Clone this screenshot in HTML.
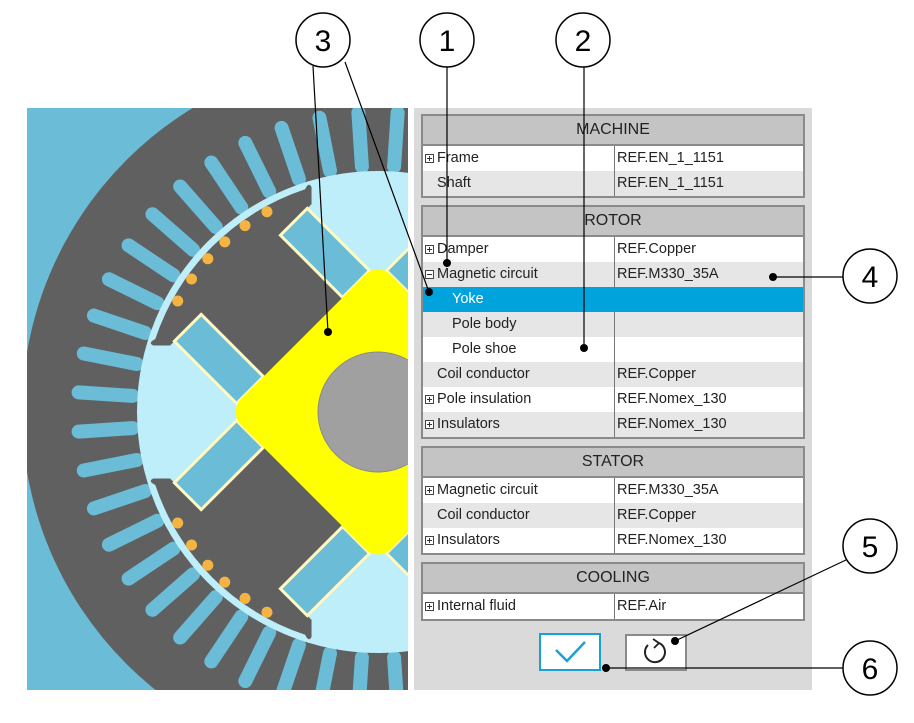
<!DOCTYPE html>
<html><head><meta charset="utf-8"><style>
html,body{margin:0;width:914px;height:723px;overflow:hidden;}
body{background:#fff;position:relative;font-family:"Liberation Sans",sans-serif;}
#panel{position:absolute;left:414px;top:108px;width:398px;height:582px;background:#dadada;}
.tb{position:absolute;left:421px;width:380px;border:2px solid #8a8a8a;background:#fff;}
.hd{height:28px;line-height:28px;text-align:center;background:#c4c4c4;border-bottom:2px solid #8a8a8a;font-size:16px;color:#222;}
.r{height:25px;line-height:25px;font-size:14.5px;color:#222;position:relative;}
.r.g{background:#e6e6e6}.r.w{background:#fff}.r.s{background:#00a3dc;color:#fff}
.r .a{position:absolute;left:14px;top:0}
.r .a.i{left:29px}
.r .b{position:absolute;left:191px;top:0;bottom:0;border-left:1px solid #777;padding-left:2px}
.p{position:absolute;left:2px;top:8px;width:7px;height:7px;border:1px solid #444;background:#fff}
.p:before{content:"";position:absolute;left:1px;top:3px;width:5px;height:1px;background:#333}
.p.pl:after{content:"";position:absolute;left:3px;top:1px;width:1px;height:5px;background:#333}
</style></head><body>
<svg style="position:absolute;left:0;top:0" width="914" height="723">
<defs><clipPath id="c"><rect x="27" y="108" width="381" height="582"/></clipPath></defs>
<g clip-path="url(#c)">
<rect x="27" y="108" width="381" height="582" fill="#6bbcd6"/>
<circle cx="378" cy="412" r="356" fill="#606060"/>
<g id="slots" stroke="#6bbcd6" stroke-width="14" stroke-linecap="round"></g>
<circle cx="378" cy="412" r="241" fill="#bdeefa"/>
<g id="poles"></g>
<rect x="272" y="306" width="212" height="212" rx="18" transform="rotate(45 378 412)" fill="#ffff00"/>
<circle cx="378" cy="412" r="60" fill="#a0a0a0" stroke="#8a8a8a" stroke-width="1"/>
</g>
</svg>
<div id="panel"></div>

<div class="tb" style="top:114px">
<div class="hd">MACHINE</div>
<div class="r w"><span class="p pl"></span><span class="a">Frame</span><span class="b">REF.EN_1_1151</span></div>
<div class="r g"><span class="a">Shaft</span><span class="b">REF.EN_1_1151</span></div>
</div>
<div class="tb" style="top:205px">
<div class="hd">ROTOR</div>
<div class="r w"><span class="p pl"></span><span class="a">Damper</span><span class="b">REF.Copper</span></div>
<div class="r g"><span class="p"></span><span class="a">Magnetic circuit</span><span class="b">REF.M330_35A</span></div>
<div class="r s"><span class="a i">Yoke</span></div>
<div class="r g"><span class="a i">Pole body</span><span class="b"></span></div>
<div class="r w"><span class="a i">Pole shoe</span><span class="b"></span></div>
<div class="r g"><span class="a">Coil conductor</span><span class="b">REF.Copper</span></div>
<div class="r w"><span class="p pl"></span><span class="a">Pole insulation</span><span class="b">REF.Nomex_130</span></div>
<div class="r g"><span class="p pl"></span><span class="a">Insulators</span><span class="b">REF.Nomex_130</span></div>
</div>
<div class="tb" style="top:446px">
<div class="hd">STATOR</div>
<div class="r w"><span class="p pl"></span><span class="a">Magnetic circuit</span><span class="b">REF.M330_35A</span></div>
<div class="r g"><span class="a">Coil conductor</span><span class="b">REF.Copper</span></div>
<div class="r w"><span class="p pl"></span><span class="a">Insulators</span><span class="b">REF.Nomex_130</span></div>
</div>
<div class="tb" style="top:562px">
<div class="hd">COOLING</div>
<div class="r w"><span class="p pl"></span><span class="a">Internal fluid</span><span class="b">REF.Air</span></div>
</div>
<div style="position:absolute;left:539px;top:633px;width:58px;height:34px;border:2px solid #1aa0d8;background:#fff"></div>
<div style="position:absolute;left:625px;top:634px;width:58px;height:33px;border:2px solid #8a8a8a;background:#fff"></div>

<svg style="position:absolute;left:0;top:0" width="914" height="723">
<polyline points="556,650 567,661 585,642" fill="none" stroke="#1aa0d8" stroke-width="2.5"/>
<path d="M648,645 A10,10 0 1 0 659,643" fill="none" stroke="#222" stroke-width="2"/>
<path d="M653,639 L659,643 L654,648" fill="none" stroke="#222" stroke-width="1.8"/>
<g stroke="#000" stroke-width="1.2" fill="none">
<line x1="313" y1="66" x2="328" y2="332"/>
<line x1="345" y1="62" x2="429" y2="292"/>
<line x1="447" y1="67" x2="447" y2="263"/>
<line x1="584" y1="67" x2="584" y2="348"/>
<line x1="843" y1="277" x2="773" y2="277"/>
<line x1="848" y1="559" x2="675" y2="641"/>
<line x1="843" y1="668" x2="608" y2="668"/>
</g>
<g fill="#000">
<circle cx="328" cy="332" r="4"/><circle cx="429" cy="292" r="4"/><circle cx="447" cy="263" r="4"/>
<circle cx="584" cy="348" r="4"/><circle cx="773" cy="277" r="4"/><circle cx="675" cy="641" r="4"/><circle cx="606" cy="668" r="4"/>
</g>
<g fill="#fff" stroke="#000" stroke-width="1.5">
<circle cx="323" cy="40" r="27"/><circle cx="447" cy="40" r="27"/><circle cx="583" cy="40" r="27"/>
<circle cx="870" cy="276" r="27"/><circle cx="870" cy="546" r="27"/><circle cx="870" cy="668" r="27"/>
</g>
<g font-family="Liberation Sans,sans-serif" font-size="30" text-anchor="middle" fill="#000">
<text x="323" y="51">3</text><text x="447" y="51">1</text><text x="583" y="51">2</text>
<text x="870" y="287">4</text><text x="870" y="557">5</text><text x="870" y="679">6</text>
</g>
</svg>
<script>
var cx=378,cy=412,ns="http://www.w3.org/2000/svg";
var s=document.getElementById("slots");
for(var k=0;k<48;k++){var a=(3.75+7.5*k)*Math.PI/180;
var l=document.createElementNS(ns,"line");
l.setAttribute("x1",cx+246*Math.cos(a));l.setAttribute("y1",cy+246*Math.sin(a));
l.setAttribute("x2",cx+300*Math.cos(a));l.setAttribute("y2",cy+300*Math.sin(a));s.appendChild(l);}
var P=document.getElementById("poles");
var html="";
function X(v){return cx+v}function Y(v){return cy+v}
[45,135,225,315].forEach(function(d){
var g='<g transform="rotate('+(d-180)+' '+cx+' '+cy+')">';
g+='<rect x="'+X(-200)+'" y="'+Y(-56)+'" width="100" height="112" fill="#606060"/>';
g+='<path d="M'+X(-194)+','+Y(-100)+' L'+X(-206)+','+Y(-112)+' Q'+X(-212)+','+Y(-114)+' '+X(-209)+','+Y(-106)+' A236,236 0 0 0 '+X(-209)+','+Y(106)+' Q'+X(-212)+','+Y(114)+' '+X(-206)+','+Y(112)+' L'+X(-194)+','+Y(100)+' Z" fill="#606060"/>';
g+='<rect x="'+X(-194)+'" y="'+Y(56)+'" width="88" height="38" fill="#6bbcd6" stroke="#fff8c0" stroke-width="3"/>';
g+='<rect x="'+X(-194)+'" y="'+Y(-94)+'" width="88" height="38" fill="#6bbcd6" stroke="#fff8c0" stroke-width="3"/>';
g+='</g>';html+=g;});
var dots="";
[29,35.5,42,48,54.5,61].forEach(function(a){[-a,a].forEach(function(b){var r=(b+180)*Math.PI/180;
dots+='<circle cx="'+(cx+229*Math.cos(r))+'" cy="'+(cy+229*Math.sin(r))+'" r="5.5" fill="#f5b342"/>';});});
P.innerHTML=html+dots;
</script>
</body></html>
